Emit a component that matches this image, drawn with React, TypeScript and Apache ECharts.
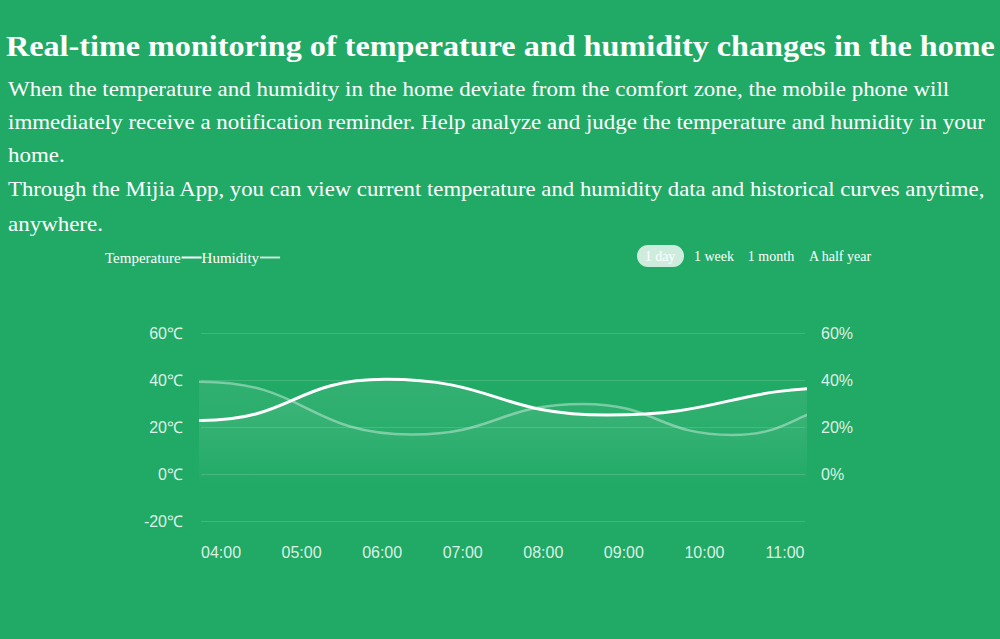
import React, { useEffect, useRef } from "react";
import * as echarts from "echarts";

const hours = ["04:00", "05:00", "06:00", "07:00", "08:00", "09:00", "10:00", "11:00"];
const yTicks = [-20, 0, 20, 40, 60];
// [hour, °C] turning points of the curve; the first and last lie outside the visible range (clipped)
const temperature: [number, number][] = [
  [3.0, 30], [3.75, 22.8], [6.04, 40.3], [8.79, 25.1], [11.8, 36.9], [12.6, 30],
];
// [hour, %] turning points of the curve; the first and last lie outside the visible range (clipped)
const humidity: [number, number][] = [
  [3.0, 30], [3.75, 39.3], [6.37, 16.8], [8.49, 29.8], [10.35, 16.6], [11.9, 29.1], [12.6, 22],
];
const ranges = ["1 day", "1 week", "1 month", "A half year"];
const title = "Real-time monitoring of temperature and humidity changes in the home";
const paragraph = [
  "When the temperature and humidity in the home deviate from the comfort zone, the mobile phone will",
  "immediately receive a notification reminder. Help analyze and judge the temperature and humidity in your",
  "home.",
  "Through the Mijia App, you can view current temperature and humidity data and historical curves anytime,",
  "anywhere.",
];

const SERIF = "'Liberation Serif', 'Times New Roman', serif";
const SANS = "'Liberation Sans', Arial, sans-serif";

export default function App() {
  const ref = useRef<HTMLDivElement>(null);
  useEffect(() => {
    if (!ref.current) return;
    const chart = echarts.init(ref.current, null, { renderer: "svg" });
    const paraY = [89, 122, 155, 189, 224];
    const paraScale = [1.044, 1.044, 1.044, 1.035, 1.044];
    const rangeX = [660, 714, 771, 840];
    const graphics: any[] = [
      {
        type: "text",
        x: 6,
        y: 47,
        scaleX: 1.11,
        style: { text: title, font: `bold 29px ${SERIF}`, fill: "#ffffff", textVerticalAlign: "middle" },
      },
      ...paragraph.map((t, i) => ({
        type: "text",
        x: 8,
        y: paraY[i],
        scaleX: paraScale[i],
        style: { text: t, font: `22px ${SERIF}`, fill: "#ffffff", textVerticalAlign: "middle" },
      })),
      {
        type: "rect",
        shape: { x: 637, y: 245, width: 47, height: 22, r: 11 },
        style: { fill: "rgba(255,255,255,0.78)" },
      },
      ...ranges.map((t, i) => ({
        type: "text",
        x: rangeX[i],
        y: 256,
        style: {
          text: t,
          font: `14px ${SERIF}`,
          fill: "#ffffff",
          textAlign: "center",
          textVerticalAlign: "middle",
        },
      })),
    ];
    chart.setOption({
      animation: false,
      backgroundColor: "#21aa66",
      legend: {
        left: 100,
        top: 245,
        align: "right",
        itemGap: 0,
        itemWidth: 20,
        itemHeight: 2,
        icon: "rect",
        textStyle: { color: "#ffffff", fontFamily: SERIF, fontSize: 15, padding: [0, -4, 0, 0] },
        data: [
          { name: "Temperature", itemStyle: { color: "#ffffff" } },
          { name: "Humidity", itemStyle: { color: "rgba(255,255,255,0.75)" } },
        ],
      },
      graphic: graphics,
      grid: [
        { left: 201, right: 195, top: 333, bottom: 118 },
        { left: 221, right: 215, top: 333, bottom: 118 },
      ],
      xAxis: [
        { type: "value", gridIndex: 0, min: 3.75, max: 11.25, show: false },
        {
          type: "category",
          gridIndex: 1,
          data: hours,
          boundaryGap: false,
          axisLine: { show: false },
          axisTick: { show: false },
          axisLabel: { color: "rgba(255,255,255,0.85)", fontSize: 16, fontFamily: SANS, margin: 23 },
        },
      ],
      yAxis: [
        {
          type: "value",
          gridIndex: 0,
          min: -20,
          max: 60,
          interval: 20,
          axisLine: { show: false },
          axisTick: { show: false },
          axisLabel: {
            color: "rgba(255,255,255,0.85)",
            fontSize: 16,
            fontFamily: SANS,
            margin: 18,
            formatter: (v: number) => (yTicks.includes(v) ? `${v}℃` : ""),
          },
          splitLine: { lineStyle: { color: "rgba(255,255,255,0.14)", width: 1 } },
        },
        {
          type: "value",
          gridIndex: 0,
          position: "right",
          min: -20,
          max: 60,
          interval: 20,
          axisLine: { show: false },
          axisTick: { show: false },
          axisLabel: {
            color: "rgba(255,255,255,0.85)",
            fontSize: 16,
            fontFamily: SANS,
            margin: 16,
            formatter: (v: number) => (v < 0 ? "" : `${v}%`),
          },
          splitLine: { show: false },
        },
        { type: "value", gridIndex: 1, show: false, min: -20, max: 60 },
      ],
      series: [
        {
          name: "Humidity",
          type: "line",
          xAxisIndex: 0,
          yAxisIndex: 1,
          data: humidity,
          smooth: 0.5,
          smoothMonotone: "x",
          clip: true,
          showSymbol: false,
          lineStyle: { color: "rgba(255,255,255,0.38)", width: 2.5 },
          itemStyle: { color: "rgba(255,255,255,0.75)" },
          areaStyle: {
            origin: "start",
            color: new echarts.graphic.LinearGradient(0, 0, 0, 1, [
              { offset: 0, color: "rgba(255,255,255,0.1)" },
              { offset: 0.75, color: "rgba(255,255,255,0.0)" },
            ]),
          },
        },
        {
          name: "Temperature",
          type: "line",
          xAxisIndex: 0,
          yAxisIndex: 0,
          data: temperature,
          smooth: 0.5,
          smoothMonotone: "x",
          clip: true,
          showSymbol: false,
          lineStyle: { color: "#ffffff", width: 3 },
          itemStyle: { color: "#ffffff" },
          areaStyle: {
            origin: "start",
            color: new echarts.graphic.LinearGradient(0, 0, 0, 1, [
              { offset: 0, color: "rgba(255,255,255,0.12)" },
              { offset: 0.75, color: "rgba(255,255,255,0.0)" },
            ]),
          },
        },
      ],
    });
    return () => chart.dispose();
  }, []);
  return (
    <div
      ref={ref}
      style={{ position: "absolute", left: 0, top: 0, width: 1000, height: 639 }}
    />
  );
}
